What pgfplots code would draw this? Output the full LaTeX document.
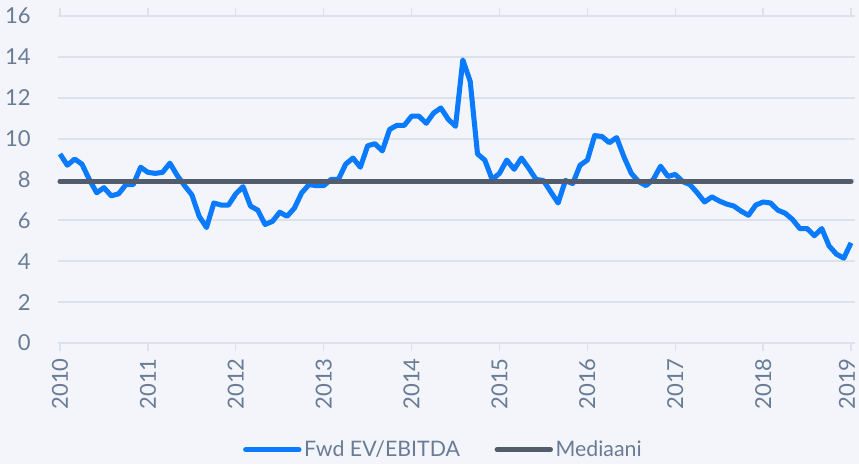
\documentclass[border=0pt]{standalone}
\usepackage{pgfplots}
\pgfplotsset{compat=1.18}
\usepackage{pgfplotstable}
\usepackage{fontspec}
\setmainfont{Lato}
\definecolor{bgc}{RGB}{243,245,250}
\definecolor{gridc}{RGB}{221,225,232}
\definecolor{txtc}{RGB}{104,124,150}
\definecolor{bluec}{RGB}{10,123,255}
\definecolor{medc}{RGB}{82,92,108}
\pgfplotstableread{
x y
2010.000 9.25
2010.083 8.70
2010.167 9.00
2010.250 8.75
2010.333 8.00
2010.417 7.35
2010.500 7.60
2010.583 7.20
2010.667 7.30
2010.750 7.75
2010.833 7.75
2010.917 8.60
2011.000 8.35
2011.083 8.30
2011.167 8.35
2011.250 8.80
2011.333 8.20
2011.417 7.70
2011.500 7.25
2011.583 6.20
2011.667 5.65
2011.750 6.85
2011.833 6.75
2011.917 6.75
2012.000 7.30
2012.083 7.65
2012.167 6.70
2012.250 6.50
2012.333 5.80
2012.417 5.95
2012.500 6.40
2012.583 6.20
2012.667 6.60
2012.750 7.35
2012.833 7.75
2012.917 7.70
2013.000 7.70
2013.083 8.00
2013.167 8.00
2013.250 8.75
2013.333 9.05
2013.417 8.60
2013.500 9.65
2013.583 9.75
2013.667 9.40
2013.750 10.45
2013.833 10.65
2013.917 10.65
2014.000 11.10
2014.083 11.10
2014.167 10.75
2014.250 11.25
2014.333 11.50
2014.417 10.95
2014.500 10.60
2014.583 13.85
2014.667 12.80
2014.750 9.25
2014.833 8.95
2014.917 8.00
2015.000 8.30
2015.083 8.95
2015.167 8.50
2015.250 9.05
2015.333 8.55
2015.417 8.00
2015.500 7.95
2015.583 7.40
2015.667 6.85
2015.750 7.95
2015.833 7.80
2015.917 8.70
2016.000 8.95
2016.083 10.15
2016.167 10.10
2016.250 9.80
2016.333 10.05
2016.417 9.10
2016.500 8.30
2016.583 7.90
2016.667 7.70
2016.750 8.00
2016.833 8.65
2016.917 8.15
2017.000 8.25
2017.083 7.90
2017.167 7.75
2017.250 7.35
2017.333 6.90
2017.417 7.15
2017.500 6.95
2017.583 6.80
2017.667 6.70
2017.750 6.45
2017.833 6.25
2017.917 6.75
2018.000 6.90
2018.083 6.85
2018.167 6.50
2018.250 6.35
2018.333 6.05
2018.417 5.60
2018.500 5.60
2018.583 5.25
2018.667 5.60
2018.750 4.75
2018.833 4.35
2018.917 4.15
2019.000 4.90
}\fwd
\pgfplotstableread{
x y
2010.000 7.9
2019.000 7.9
}\med
\begin{document}
\begin{tikzpicture}[x=0.75pt,y=0.75pt]
\fill[bgc] (-58,-121) rectangle (801,343);
\begin{axis}[
  at={(0,0)}, anchor=south west,
  scale only axis, width=597.75pt, height=245.25pt,
  xmin=2009.977, xmax=2019.045, ymin=0, ymax=16,
  ytick={0,2,...,16},
  ymajorgrids, grid style={gridc, line width=1.5pt},
  axis line style={draw=none},
  ytick style={draw=none},
  xtick={2010,2011,...,2019},
  xticklabels={2010,2011,2012,2013,2014,2015,2016,2017,2018,{\raisebox{3pt}[\height][\depth]{2019}}},
  minor x tick num=11,
  xtick style={gridc, line width=1pt},
  minor x tick style={gridc, line width=1pt},
  tick align=outside,
  major tick length=6pt, minor tick length=6pt,
  x tick label style={rotate=90, anchor=east, font=\fontsize{16.5}{19}\selectfont, text=txtc, xshift=-5pt, inner sep=0.3pt},
  y tick label style={font=\fontsize{16.5}{19}\selectfont, text=txtc, xshift=-11pt},
  /pgf/number format/assume math mode=true,
  clip=false,
  legend style={at={(0.484,-80pt)}, anchor=center, draw=none, fill=none,
    legend columns=2, font=\fontsize{16}{19}\selectfont, text=txtc,
    /tikz/every even column/.append style={column sep=24pt},
    nodes={inner sep=2pt}},
  legend image code/.code={\draw[#1, line cap=round] (0pt,0pt) -- (40pt,0pt);},
]
\addplot[bluec, line width=3.8pt, line join=round] table[x=x,y=y]{\fwd};
\addlegendentry{Fwd EV/EBITDA}
\addplot[medc, line width=3.8pt, line cap=round] table[x=x,y=y]{\med};
\addlegendentry{Mediaani}
\end{axis}
\pgfresetboundingbox
\path[use as bounding box] (-58,-121) rectangle (801,343);
\end{tikzpicture}
\end{document}
